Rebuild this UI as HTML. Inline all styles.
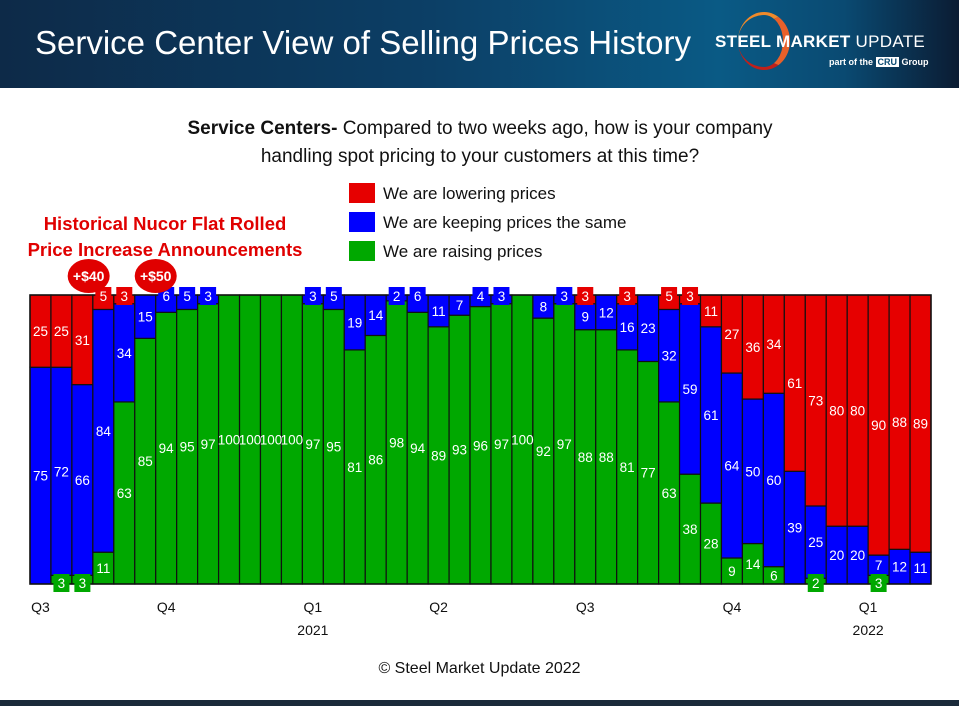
<!DOCTYPE html>
<html><head><meta charset="utf-8"><style>
body{margin:0;width:959px;height:706px;overflow:hidden;background:#fff;font-family:"Liberation Sans",sans-serif;position:relative}
.hdr{position:absolute;left:0;top:0;width:959px;height:88px;background:linear-gradient(90deg,#0d2a48 0%,#0c3f66 45%,#0a5a85 75%,#0a4a72 88%,#0b1c33 100%)}
.t{position:absolute;color:#fff}
</style></head><body>
<div class="hdr"></div>
<div class="t" style="left:35px;top:24px;font-size:33px;">Service Center View of Selling Prices History</div>
<div style="position:absolute;left:738px;top:12px;width:52px;height:58px;border-radius:50%;border-right:7px solid #e8602a;border-top:3px solid #f08a2a;border-bottom:3px solid #c0201a;box-sizing:border-box"></div>
<div class="t" style="left:715px;top:32px;font-size:17px;font-weight:bold;letter-spacing:0.3px">STEEL MARKET <span style="font-weight:normal">UPDATE</span></div>
<div class="t" style="left:829px;top:57px;font-size:9px;font-weight:bold">part of the <span style="background:#fff;color:#0a4a72;padding:0 2px">CRU</span> Group</div>
<div style="position:absolute;left:0;top:700px;width:959px;height:6px;background:#1a2a3a"></div>
<div style="position:absolute;left:100px;width:760px;top:115px;text-align:center;font-size:19px;line-height:28px;color:#111"><b>Service Centers-</b> Compared to two weeks ago, how is your company<br>handling spot pricing to your customers at this time?</div>
<div style="position:absolute;left:10px;width:310px;top:211px;text-align:center;font-size:18.5px;line-height:26px;color:#e00000;font-weight:bold">Historical Nucor Flat Rolled<br>Price Increase Announcements</div>
<svg id="chart" width="959" height="706" style="position:absolute;left:0;top:0" font-family="Liberation Sans, sans-serif"></svg>
<div style="position:absolute;left:0;width:959px;top:660px;text-align:center;font-size:16px;color:#111">© Steel Market Update 2022</div>
<script>
const lowering=[25,25,31,5,3,0,0,0,0,0,0,0,0,0,0,0,0,0,0,0,0,0,0,0,0,0,3,0,3,0,5,3,11,27,36,34,61,73,80,80,90,88,89];
const same=[75,72,66,84,34,15,6,5,3,0,0,0,0,3,5,19,14,2,6,11,7,4,3,0,8,3,9,12,16,23,32,59,61,64,50,60,39,25,20,20,7,12,11];
const raising=[0,3,3,11,63,85,94,95,97,100,100,100,100,97,95,81,86,98,94,89,93,96,97,100,92,97,88,88,81,77,63,38,28,9,14,6,0,2,0,0,3,0,0];
const qLabels=["Q3","Q4","Q1","Q2","Q3","Q4","Q1"];
const qIndex=[0,6,13,19,26,33,39.5];
const yearLabels=["2021","2022"];
const yearIndex=[13,39.5];
const legendLabels=["We are lowering prices","We are keeping prices the same","We are raising prices"];
const announcements=["+$40","+$50"];
const annIndex=[2.8,6];
const X0=30,X1=931,Y0=295,Y1=584,N=lowering.length,BW=(X1-X0)/N;
const C={r:"#e60000",b:"#0000ff",g:"#00a800"};
const svg=document.getElementById('chart');const NS="http://www.w3.org/2000/svg";
function el(t,a,p){const e=document.createElementNS(NS,t);for(const k in a)e.setAttribute(k,a[k]);(p||svg).appendChild(e);return e;}
const xs=i=>X0+i*BW; const ys=v=>Y1-(v/100)*(Y1-Y0);
legendLabels.forEach((l,i)=>{const c=[C.r,C.b,C.g][i];
const r=el('rect',{x:349,y:183+i*29,width:26,height:20,fill:c});

const t=el('text',{x:383,y:199+i*29,'font-size':17,fill:'#111'});t.textContent=l;
});
const labels=[];
for(let i=0;i<N;i++){
 const segs=[[raising[i],C.g,'raising'],[same[i],C.b,'same'],[lowering[i],C.r,'lowering']];
 let acc=0;
 segs.forEach(([v,c,n],k)=>{ if(v<=0)return;
  const yTop=ys(acc+v),yBot=ys(acc);
  const r=el('rect',{x:xs(i),y:yTop,width:BW,height:yBot-yTop,fill:c,stroke:'#111','stroke-width':1.2});
  
  const isTop=(acc+v)>=99.5,isBot=acc===0;
  let mode='mid',cy=(yTop+yBot)/2;
  if(isTop&&v<=6&&!isBot){mode='box';cy=Y0+1;}
  else if(isBot&&v<=3&&!isTop){mode='box';cy=Y1-1;}
  labels.push([i,v,c,cy,mode]);
  acc+=v;});
}
el('rect',{x:X0,y:Y0,width:X1-X0,height:Y1-Y0,fill:'none',stroke:'#111','stroke-width':1.5});
labels.forEach(([i,v,c,cy,mode])=>{const cx=xs(i)+BW/2;
 if(mode==='box'){const b=el('rect',{x:cx-8,y:cy-9,width:16,height:18,fill:c});
  }
 const t=el('text',{x:cx,y:cy+5,'font-size':13.5,fill:'#fff','text-anchor':'middle'});t.textContent=v;
 });
qLabels.forEach((q,k)=>{const t=el('text',{x:xs(qIndex[k])+BW/2,y:612,'font-size':14,fill:'#111','text-anchor':'middle'});t.textContent=q;
 });
yearLabels.forEach((q,k)=>{const t=el('text',{x:xs(yearIndex[k])+BW/2,y:635,'font-size':14,fill:'#111','text-anchor':'middle'});t.textContent=q;
 });
announcements.forEach((a,k)=>{const cx=xs(annIndex[k]);
 const e=el('ellipse',{cx:cx,cy:276,rx:21,ry:17,fill:'#e00000'});
 
 const t=el('text',{x:cx,y:281,'font-size':14,'font-weight':'bold',fill:'#fff','text-anchor':'middle'});t.textContent=a;
 });
</script>
</body></html>
